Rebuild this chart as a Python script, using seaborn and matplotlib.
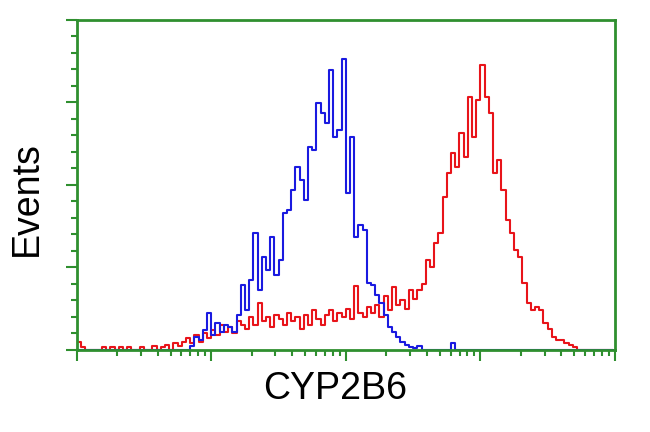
import matplotlib
matplotlib.use("Agg")
import matplotlib.pyplot as plt
import seaborn as sns
import numpy as np
import pandas as pd
from matplotlib.ticker import LogLocator, MultipleLocator, NullFormatter

# Histogram data: 32 channels per decade over 4 decades (128 channels)
channels_per_decade = 32
n_channels = 128

red_counts = [
    10, 3, 0, 0, 0, 0, 4, 0, 4, 0, 4, 0, 4, 0, 0, 4, 0, 0, 5, 0,
    4, 6, 0, 8, 5, 10, 14, 8,
    18, 10, 20, 15, 24, 18, 30, 22, 28, 20,
    35, 30, 25, 40, 30, 57, 35, 40, 28, 42,
    38, 30, 45, 35, 40, 25, 42, 30, 48, 38,
    30, 42, 48, 35, 45, 40, 50, 38, 78, 45,
    40, 52, 45, 55, 40, 65, 48, 76,
    55, 61, 50, 73, 62, 73, 80, 109, 100, 130,
    142, 185, 215, 239, 222, 263, 234, 307, 258, 303,
    345, 307, 287, 215, 230, 194, 158, 142, 121, 113,
    81, 57, 48, 52, 48, 33, 25, 16, 12, 12,
    8, 6, 3,
    0, 0, 0, 0, 0, 0, 0, 0, 0,
]

blue_counts = [0] * 27 + [
    5,
    16, 12, 24, 45, 18, 33, 22, 30, 28, 22,
    42, 79, 48, 85, 142, 73, 113, 97, 137, 91,
    109, 166, 170, 194, 222, 206, 182, 246, 242, 299,
    287, 275, 339, 258, 267, 352, 190, 258, 137, 152,
    145, 81, 79, 67, 57, 42, 28, 22, 16, 10,
    6, 4, 2, 5,
    0, 0, 0, 0, 0, 0, 0, 8,
] + [0] * 38

x_label = "CYP2B6"
y_label = "Events"

channel = np.arange(n_channels)
intensity = 10 ** ((channel + 0.5) / channels_per_decade)
df = pd.DataFrame({"intensity": intensity, "red": red_counts, "blue": blue_counts})

sns.set_style("white")
plt.rcParams["font.family"] = ["Liberation Sans", "DejaVu Sans"]

green = "#2f8f2f"
fig = plt.figure(figsize=(6.5, 4.32), dpi=100)
ax = fig.add_axes([0.118, 0.19, 0.828, 0.764])

sns.lineplot(data=df, x="intensity", y="red", ax=ax, color="#e8141a",
             lw=1.5, drawstyle="steps-mid", estimator=None)
sns.lineplot(data=df, x="intensity", y="blue", ax=ax, color="#1a1ae0",
             lw=1.5, drawstyle="steps-mid", estimator=None)

ax.set_xscale("log")
ax.set_xlim(1, 10 ** 4)
ax.set_ylim(0, 400)
ax.xaxis.set_major_locator(LogLocator(base=10, numticks=10))
ax.xaxis.set_minor_locator(LogLocator(base=10, subs=np.arange(2, 10), numticks=50))
ax.xaxis.set_major_formatter(NullFormatter())
ax.xaxis.set_minor_formatter(NullFormatter())
ax.yaxis.set_major_locator(MultipleLocator(100))
ax.yaxis.set_minor_locator(MultipleLocator(20))
ax.yaxis.set_major_formatter(NullFormatter())

for s in ax.spines.values():
    s.set_color(green)
    s.set_linewidth(2)
    s.set_zorder(5)

ax.tick_params(which="both", direction="out", color=green, width=1.5,
               bottom=True, left=True, top=False, right=False)
ax.tick_params(which="major", length=8)
ax.tick_params(which="minor", length=4)

ax.set_xlabel(x_label, fontsize=27, color="black")
ax.set_ylabel(y_label, fontsize=27, color="black")
ax.xaxis.set_label_coords(0.48, -0.065, transform=ax.transAxes)
ax.yaxis.set_label_coords(-0.06, 0.46, transform=ax.transAxes)

fig.savefig("out.png", dpi=100)
